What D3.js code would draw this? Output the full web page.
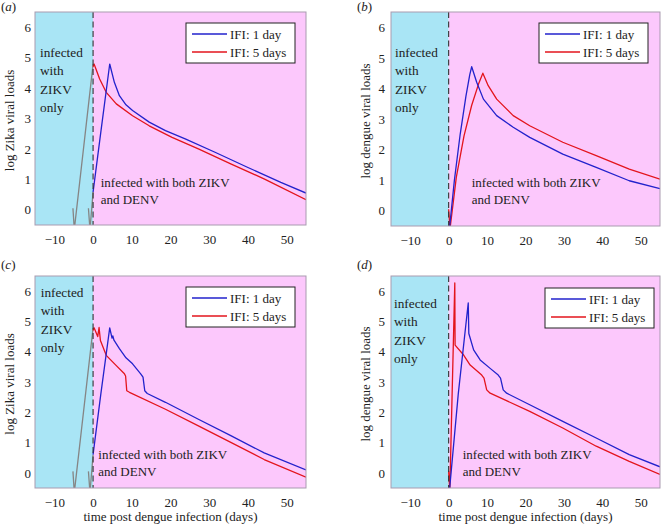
<!DOCTYPE html>
<html><head><meta charset="utf-8">
<script src="https://cdn.jsdelivr.net/npm/d3@7"></script>
<style>body{margin:0;background:#fff}svg{display:block}
svg text{font-family:"Liberation Serif","Times New Roman","Nimbus Roman","DejaVu Serif",serif !important;}</style>
</head><body><svg id="c" width="661" height="526"></svg>
<script>
const xTicks = [-10, 0, 10, 20, 30, 40, 50];
const yTicks = [0, 1, 2, 3, 4, 5, 6];
const legendLabels = ["IFI: 1 day", "IFI: 5 days"];
const xLabel = "time post dengue infection (days)";
const yLabels = ["log Zika viral loads", "log dengue viral loads", "log Zika viral loads", "log dengue viral loads"];
const panelTags = ["a", "b", "c", "d"];

// panel (a): Zika, base model
const aBlue = [[0,0.58],[2,2.55],[4.3,4.79],[5.5,4.19],[6.8,3.75],[8.5,3.45],[10.2,3.26],[14.5,2.88],[18.7,2.6],[23.8,2.33],[31.5,1.89],[40,1.39],[48.5,0.9],[55,0.55]];
const aRed = [[0,4.7],[0.26,4.79],[1.7,4.3],[3.4,3.86],[6,3.48],[10.2,3.09],[14.5,2.76],[20.4,2.38],[27.2,2.0],[35.7,1.5],[44.3,1.01],[55,0.33]];
const aGray5 = [[-5.2,0.05],[-4.85,-0.65],[0,4.78]];
const aGray1 = [[-1.2,0.05],[-0.8,-0.65],[0,0.58]];

// panel (b): dengue, base model
const bBlue = [[0.2,-0.6],[1.5,1.0],[3.0,2.5],[4.5,3.75],[5.5,4.45],[6.0,4.71],[7.3,4.2],[9.05,3.65],[12.5,3.11],[16.8,2.73],[21.1,2.4],[29.7,1.85],[38.4,1.42],[47,0.98],[55,0.72]];
const bRed = [[0,0.05],[0.35,-0.6],[2.0,1.1],[4.0,2.45],[6.0,3.45],[7.8,4.15],[8.9,4.5],[10.3,4.09],[12.5,3.65],[16.8,3.11],[21.1,2.78],[29.7,2.24],[38.4,1.8],[47,1.36],[55,1.03]];

// panel (c): Zika, extended model
const cBlue = [[0,0.6],[2,2.6],[4.3,4.79],[4.9,4.45],[5.1,4.52],[5.4,4.38],[6.8,4.1],[8.5,3.8],[10.2,3.6],[12.3,3.27],[12.9,3.16],[13.35,2.71],[14,2.62],[18.7,2.33],[27.2,1.77],[35.7,1.22],[44.2,0.66],[55,0.1]];
const cRed = [[0,4.7],[0.26,4.79],[1.2,4.5],[1.55,4.8],[1.9,4.37],[3.4,3.88],[6,3.54],[8.1,3.27],[8.4,3.2],[8.7,2.71],[9.4,2.66],[18.7,2.1],[27.2,1.55],[35.7,1.0],[44.2,0.44],[55,-0.14]];
const cGray5 = [[-5.2,0.05],[-4.85,-0.65],[0,4.78]];
const cGray1 = [[-1.2,0.05],[-0.8,-0.65],[0,0.6]];

// panel (d): dengue, extended model
const dBlue = [[0.2,-0.6],[2.5,2.6],[5.1,5.61],[5.25,4.6],[6.5,4.06],[8.2,3.73],[10.8,3.45],[12.9,3.23],[13.5,3.13],[14.2,2.74],[15.1,2.63],[21.1,2.25],[29.7,1.7],[38.4,1.15],[47,0.6],[55,0.2]];
const dRed = [[0,0.05],[0.3,-0.6],[1.6,6.27],[1.68,4.22],[3.9,3.89],[5.6,3.56],[8.6,3.23],[9.2,3.13],[9.9,2.74],[10.8,2.63],[21.1,2.03],[29.7,1.48],[38.4,0.88],[47,0.38],[55,-0.05]];

const xDomain = [-15, 55];
const yDomain = [-0.5, 6.5];

const C = { cyan: "#a9e5f5", pink: "#fcc8fc", blue: "#2222cc", red: "#e3141c", gray: "#858585", frame: "#a99bb0", text: "#222" };
const FS = 13;

const panels = [
  { box: [35, 306, 12, 225], blue: aBlue, red: aRed, gray: [aGray5, aGray1],
    leg: [186, 23], zText: [40, 57], bothText: [100.7, 187], tagPos: [1, 11], ylabX: 9 },
  { box: [391, 660, 12, 226], blue: bBlue, red: bRed, gray: [],
    leg: [539, 23], zText: [395, 57], bothText: [471.7, 187], tagPos: [357, 11], ylabX: 365 },
  { box: [35, 306, 276, 488], blue: cBlue, red: cRed, gray: [cGray5, cGray1],
    leg: [186, 287], zText: [40.7, 297], bothText: [98.3, 459], tagPos: [1, 269], ylabX: 9, xlab: true },
  { box: [391, 660, 276, 488], blue: dBlue, red: dRed, gray: [],
    leg: [545, 288], zText: [394, 308], bothText: [462.7, 459], tagPos: [357, 269], ylabX: 365, xlab: true }
];

const svg = d3.select("#c");

panels.forEach((p, i) => {
  const [x0, x1, y0, y1] = p.box;
  const x = d3.scaleLinear().domain(xDomain).range([x0, x1]);
  const y = d3.scaleLinear().domain(yDomain).range([y1, y0]);
  const g = svg.append("g");
  const clipId = "clip" + i;
  svg.append("clipPath").attr("id", clipId).append("rect")
    .attr("x", x0).attr("y", y0).attr("width", x1 - x0).attr("height", y1 - y0);

  g.append("rect").attr("x", x(xDomain[0])).attr("y", y0).attr("width", x(0) - x(xDomain[0])).attr("height", y1 - y0).attr("fill", C.cyan);
  g.append("rect").attr("x", x(0)).attr("y", y0).attr("width", x(xDomain[1]) - x(0)).attr("height", y1 - y0).attr("fill", C.pink);

  const zt = g.append("text").attr("fill", C.text).attr("font-size", FS + 0.3);
  ["infected", "with", "ZIKV", "only"].forEach((s, k) => {
    zt.append("tspan").attr("x", p.zText[0]).attr("y", p.zText[1] + k * 18.4).text(s);
  });
  const bt = g.append("text").attr("fill", C.text).attr("font-size", FS);
  ["infected with both ZIKV", "and DENV"].forEach((s, k) => {
    bt.append("tspan").attr("x", p.bothText[0]).attr("y", p.bothText[1] + k * 17.3).text(s);
  });

  const line = d3.line().x(d => x(d[0])).y(d => y(d[1]));
  const lg = g.append("g").attr("clip-path", `url(#${clipId})`);
  p.gray.forEach(s => lg.append("path").attr("d", line(s)).attr("fill", "none").attr("stroke", C.gray).attr("stroke-width", 1.3));
  lg.append("path").attr("d", line(p.red)).attr("fill", "none").attr("stroke", C.red).attr("stroke-width", 1.3).attr("stroke-linejoin", "round");
  lg.append("path").attr("d", line(p.blue)).attr("fill", "none").attr("stroke", C.blue).attr("stroke-width", 1.3).attr("stroke-linejoin", "round");

  g.append("line").attr("x1", x(0)).attr("x2", x(0)).attr("y1", y0).attr("y2", y1)
    .attr("stroke", "#333").attr("stroke-width", 1.1).attr("stroke-dasharray", "6,3.5");

  g.append("rect").attr("x", x0).attr("y", y0).attr("width", x1 - x0).attr("height", y1 - y0)
    .attr("fill", "none").attr("stroke", C.frame).attr("stroke-width", 1);

  const xa = g.append("g").attr("transform", `translate(0,${y1})`)
    .call(d3.axisBottom(x).tickValues(xTicks).tickSize(0).tickPadding(10).tickFormat(d3.format("d")));
  xa.select(".domain").remove();
  xa.selectAll("text").attr("font-size", FS).attr("fill", C.text);
  const ya = g.append("g").attr("transform", `translate(${x0},0)`)
    .call(d3.axisLeft(y).tickValues(yTicks).tickSize(0).tickPadding(i % 2 === 0 ? 4 : 6).tickFormat(d3.format("d")));
  ya.select(".domain").remove();
  ya.selectAll("text").attr("font-size", FS).attr("fill", C.text);

  g.append("text").attr("transform", `translate(${p.ylabX},${(y0 + y1) / 2 + 2}) rotate(-90)`)
    .attr("text-anchor", "middle").attr("dy", "0.35em").attr("font-size", FS).attr("fill", C.text).text(yLabels[i]);

  if (p.xlab) {
    g.append("text").attr("x", (x0 + x1) / 2).attr("y", y1 + 33).attr("text-anchor", "middle")
      .attr("font-size", FS).attr("fill", C.text).text(xLabel);
  }

  const tg = g.append("text").attr("x", p.tagPos[0]).attr("y", p.tagPos[1]).attr("font-size", FS).attr("fill", C.text);
  tg.append("tspan").text("(");
  tg.append("tspan").attr("font-style", "italic").text(panelTags[i]);
  tg.append("tspan").text(")");

  const [lx, ly] = p.leg;
  const leg = g.append("g").attr("transform", `translate(${lx},${ly})`);
  leg.append("rect").attr("width", 109).attr("height", 40).attr("fill", "#fff").attr("stroke", "#222").attr("stroke-width", 1);
  [C.blue, C.red].forEach((col, k) => {
    leg.append("line").attr("x1", 6).attr("x2", 41).attr("y1", 11 + k * 18).attr("y2", 11 + k * 18).attr("stroke", col).attr("stroke-width", 1.3);
    leg.append("text").attr("x", 44).attr("y", 11 + k * 18).attr("dy", "0.35em").attr("font-size", FS).attr("fill", C.text).text(legendLabels[k]);
  });
});
</script>
</body></html>
